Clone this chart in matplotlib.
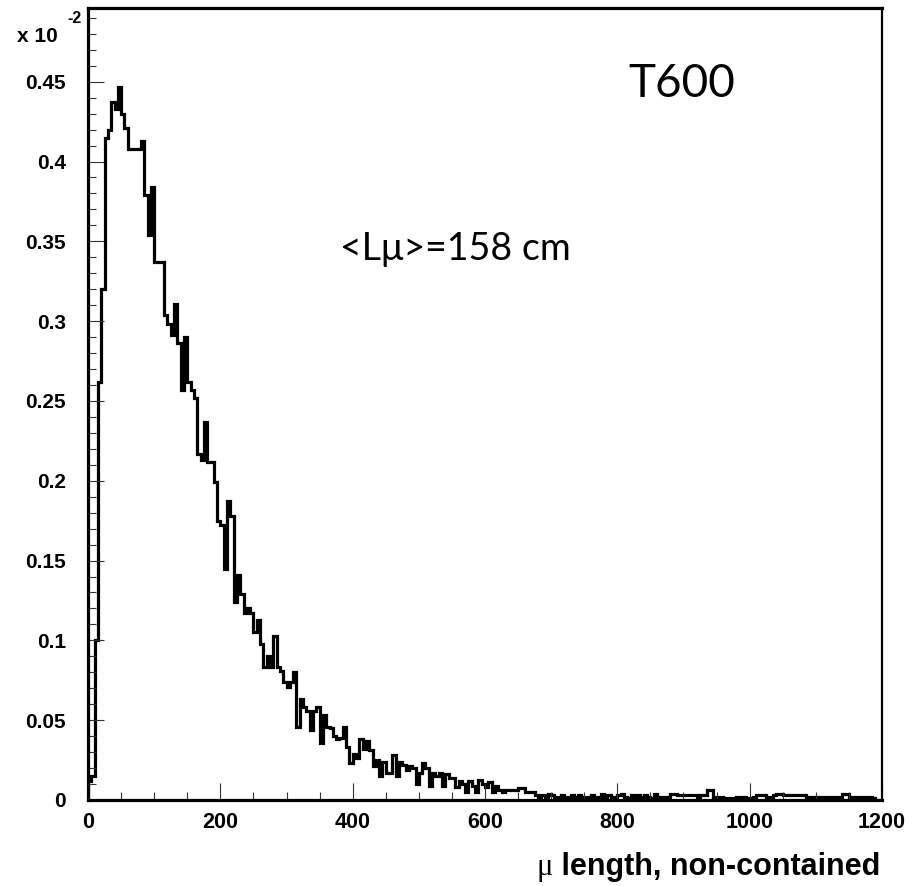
import numpy as np
import matplotlib
matplotlib.use("Agg")
import matplotlib.pyplot as plt
from matplotlib.ticker import MultipleLocator

# histogram of muon track length, 5 cm bins from 0 to 1200 (values in units of 1e-2)
bin_edges = np.arange(0, 1205, 5)
counts = [
    # 0-100
    0.012, 0.015, 0.100, 0.262, 0.320, 0.415, 0.420, 0.437, 0.433, 0.447,
    0.430, 0.421, 0.408, 0.408, 0.408, 0.408, 0.413, 0.379, 0.354, 0.384,
    # 100-200
    0.337, 0.337, 0.337, 0.304, 0.298, 0.291, 0.311, 0.286, 0.257, 0.290,
    0.262, 0.257, 0.252, 0.217, 0.213, 0.237, 0.212, 0.212, 0.199, 0.175,
    # 200-300
    0.172, 0.145, 0.187, 0.178, 0.124, 0.141, 0.129, 0.117, 0.120, 0.117,
    0.105, 0.113, 0.098, 0.083, 0.090, 0.083, 0.103, 0.083, 0.081, 0.074,
    # 300-400
    0.071, 0.074, 0.080, 0.046, 0.063, 0.058, 0.056, 0.044, 0.056, 0.058,
    0.036, 0.053, 0.046, 0.045, 0.040, 0.038, 0.039, 0.046, 0.033, 0.023,
    # 400-500
    0.029, 0.026, 0.038, 0.032, 0.037, 0.031, 0.021, 0.025, 0.015, 0.024,
    0.017, 0.017, 0.028, 0.015, 0.024, 0.022, 0.019, 0.021, 0.020, 0.010,
    # 500-600
    0.017, 0.023, 0.020, 0.009, 0.017, 0.015, 0.017, 0.009, 0.016, 0.014,
    0.014, 0.008, 0.012, 0.010, 0.005, 0.012, 0.009, 0.005, 0.0125, 0.010,
    # 600-700
    0.008, 0.011, 0.005, 0.009, 0.006, 0.005, 0.006, 0.006, 0.006, 0.006,
    0.0075, 0.0075, 0.005, 0.005, 0.005, 0.003, 0.002, 0.003, 0.002, 0.0035,
    # 700-800
    0.003, 0.002, 0.001, 0.003, 0.002, 0.001, 0.003, 0.002, 0.003, 0.001,
    0.002, 0.001, 0.003, 0.001, 0.002, 0.0035, 0.002, 0.003, 0.001, 0.002,
    # 800-900
    0.003, 0.004, 0.002, 0.001, 0.003, 0.002, 0.003, 0.002, 0.003, 0.002,
    0.001, 0.004, 0.002, 0.002, 0.002, 0.001, 0.004, 0.004, 0.003, 0.003,
    # 900-1000
    0.003, 0.003, 0.003, 0.003, 0.002, 0.003, 0.003, 0.006, 0.006, 0.002,
    0.002, 0.002, 0.001, 0.001, 0.001, 0.001, 0.002, 0.002, 0.002, 0.001,
    # 1000-1100
    0.001, 0.002, 0.003, 0.003, 0.003, 0.002, 0.002, 0.003, 0.004, 0.004,
    0.003, 0.003, 0.003, 0.003, 0.003, 0.003, 0.003, 0.002, 0.002, 0.002,
    # 1100-1200
    0.002, 0.002, 0.002, 0.002, 0.002, 0.002, 0.002, 0.002, 0.0035, 0.0035,
    0.002, 0.002, 0.002, 0.002, 0.002, 0.002, 0.002, 0.001, 0.0, 0.0,
]
x_ticks = [0, 200, 400, 600, 800, 1000, 1200]
y_ticks = [0, 0.05, 0.1, 0.15, 0.2, 0.25, 0.3, 0.35, 0.4, 0.45]
y_ticklabels = ["0", "0.05", "0.1", "0.15", "0.2", "0.25", "0.3", "0.35", "0.4", "0.45"]

BOLD = dict(family="Liberation Sans", weight="bold")

fig = plt.figure(figsize=(9.19, 8.86), dpi=100)
ax = fig.add_axes([0.0958, 0.0971, 0.8639, 0.8939])

ax.stairs(counts, bin_edges, color="black", lw=2.3, baseline=0)

ax.set_xlim(0, 1200)
ax.set_ylim(0, 0.4962)
ax.set_xticks(x_ticks)
ax.set_xticklabels([str(t) for t in x_ticks], **BOLD, fontsize=15.5)
ax.set_yticks(y_ticks)
ax.set_yticklabels(y_ticklabels, **BOLD, fontsize=15)
ax.xaxis.set_minor_locator(MultipleLocator(50))
ax.yaxis.set_minor_locator(MultipleLocator(0.01))
ax.tick_params(which="both", direction="in", top=False, right=False, width=0.8, color="#333333")
ax.tick_params(axis="y", which="major", length=11.5, pad=16)
ax.tick_params(axis="y", which="minor", length=5.8)
ax.tick_params(axis="x", which="major", length=12, pad=9)
ax.tick_params(axis="x", which="minor", length=6)
for side in ["left", "bottom", "top"]:
    ax.spines[side].set_linewidth(2.3)
ax.spines["right"].set_linewidth(1.6)

# exponent label, ROOT style
fig.text(17 / 919, 1 - 42 / 886, "x 10", fontsize=15, **BOLD, ha="left", va="baseline")
fig.text(67 / 919, 1 - 23 / 886, "-2", fontsize=11.5, **BOLD, ha="left", va="baseline")

ax.text(0.680, 0.888, "T600", transform=ax.transAxes, family="Lato", fontsize=33,
        ha="left", va="baseline")
ax.text(0.317, 0.682, "<L\u03bc>=158 cm", transform=ax.transAxes, family="Lato", fontsize=27,
        ha="left", va="baseline")

# x axis title: symbol-font mu followed by bold text, right-aligned like ROOT
title = fig.text(880 / 919, 1 - 875 / 886, " length, non-contained", fontsize=22, **BOLD,
                 ha="right", va="baseline")
fig.canvas.draw()
bb = title.get_window_extent()
fig.text(bb.x0 / fig.bbox.width, 1 - 875 / 886, "\u03bc", fontsize=22,
         family="Liberation Serif", ha="right", va="baseline")

fig.savefig("out.png", dpi=100)
